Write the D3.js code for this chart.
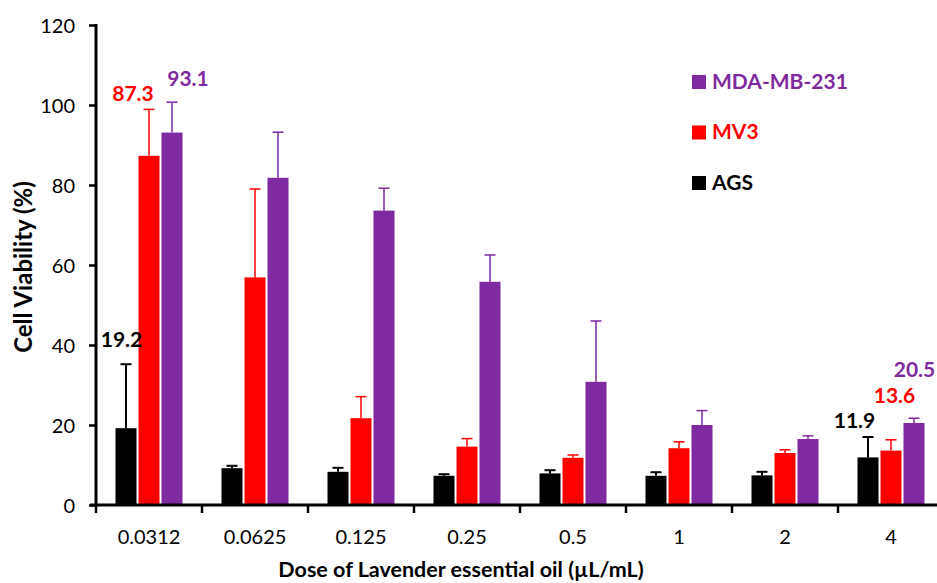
<!DOCTYPE html>
<html>
<head>
<meta charset="utf-8">
<script src="https://cdn.jsdelivr.net/npm/d3@7"></script>
<style>
  html, body { margin: 0; padding: 0; background: #fff; overflow: hidden; }
  svg { display: block; font-family: Lato, "Open Sans", sans-serif; }
</style>
</head>
<body>
<svg id="chart" width="937" height="583"></svg>
<script>
// Doses (µL/mL) on the x axis
const doses = ["0.0312", "0.0625", "0.125", "0.25", "0.5", "1", "2", "4"];

// Cell lines, drawn left to right inside each dose group
const cellLines = ["AGS", "MV3", "MDA-MB-231"];

// Mean viability (%) per cell line
const agsMean = [19.2, 9.2, 8.3, 7.3, 7.9, 7.3, 7.4, 11.9];
const mv3Mean = [87.3, 56.9, 21.7, 14.6, 11.8, 14.2, 13.0, 13.6];
const mdaMean = [93.1, 81.8, 73.6, 55.8, 30.8, 20.0, 16.5, 20.5];

// Standard deviation per cell line (upper error bar only)
const agsErr = [16.0, 0.6, 1.0, 0.4, 0.8, 0.9, 0.9, 5.1];
const mv3Err = [11.6, 22.1, 5.4, 2.0, 0.7, 1.6, 0.8, 2.7];
const mdaErr = [7.6, 11.4, 5.6, 6.7, 15.2, 3.6, 0.8, 1.2];

// Y axis ticks
const yTicks = [0, 20, 40, 60, 80, 100, 120];

// Values written above selected bars: [dose, cell line]
const annotated = [
  ["0.0312", "AGS"], ["0.0312", "MV3"], ["0.0312", "MDA-MB-231"],
  ["4", "AGS"], ["4", "MV3"], ["4", "MDA-MB-231"]
];

// ---- layout and styles ----
const colors = { "AGS": "#000000", "MV3": "#FF0000", "MDA-MB-231": "#7F2AA0" };
const means = { "AGS": agsMean, "MV3": mv3Mean, "MDA-MB-231": mdaMean };
const errs = { "AGS": agsErr, "MV3": mv3Err, "MDA-MB-231": mdaErr };
// label placement: dx from bar centre, dy (px) above the error-bar top
const labelShift = [
  [-4.5, 17], [-16, 8], [16, 16],
  [-13.5, 9], [3.5, 37], [0.5, 41]
];

const W = 937;
const svg = d3.select("#chart");
const plotLeft = 96, plotTop = 25, plotBottom = 505;
const bandW = 106;

const y = d3.scaleLinear().domain([0, 120]).range([plotBottom, plotTop]);
const x0 = d3.scaleBand().domain(doses)
  .range([plotLeft, plotLeft + bandW * doses.length]);
const groupW = 67;
const x1 = d3.scaleBand().domain(cellLines)
  .range([(x0.bandwidth() - groupW) / 2, (x0.bandwidth() + groupW) / 2])
  .paddingInner(2 / 23).paddingOuter(0);

const rows = [];
doses.forEach((d, i) => {
  cellLines.forEach(c => {
    rows.push({ dose: d, line: c, value: means[c][i], err: errs[c][i] });
  });
});
const cx = d => x0(d.dose) + x1(d.line) + x1.bandwidth() / 2;

// bars
svg.append("g").selectAll("rect").data(rows).join("rect")
  .attr("x", d => x0(d.dose) + x1(d.line))
  .attr("y", d => y(d.value))
  .attr("width", x1.bandwidth())
  .attr("height", d => y(0) - y(d.value))
  .attr("fill", d => colors[d.line]);

// error bars (upper)
const eb = svg.append("g").selectAll("g").data(rows).join("g")
  .attr("stroke", d => colors[d.line])
  .attr("stroke-width", d => d.line === "AGS" ? 2 : 1.5);
eb.append("line")
  .attr("x1", cx).attr("x2", cx)
  .attr("y1", d => y(d.value))
  .attr("y2", d => y(d.value + d.err));
eb.append("line")
  .attr("x1", d => cx(d) - 5.5)
  .attr("x2", d => cx(d) + 5.5)
  .attr("y1", d => y(d.value + d.err))
  .attr("y2", d => y(d.value + d.err));

// y axis
const yAxis = d3.axisLeft(y).tickValues(yTicks).tickSize(7).tickSizeOuter(0);
const gy = svg.append("g").attr("transform", `translate(${plotLeft},0)`).call(yAxis);
gy.select(".domain").attr("stroke", "#000").attr("stroke-width", 3)
  .attr("d", `M0,${plotTop - 1}V${plotBottom + 1}`);
gy.selectAll(".tick line").attr("stroke", "#000").attr("stroke-width", 2.5);
gy.selectAll(".tick text").attr("x", -21).attr("dy", "0.36em")
  .attr("font-size", 20).attr("fill", "#000").attr("font-family", "Lato, sans-serif");

// x axis with ticks at group boundaries
const gx = svg.append("g").attr("transform", `translate(0,${plotBottom})`);
gx.append("line").attr("x1", plotLeft - 6).attr("x2", W)
  .attr("y1", 0).attr("y2", 0).attr("stroke", "#000").attr("stroke-width", 3);
const bounds = doses.map(d => x0(d)).concat([x0.range()[1]]);
gx.selectAll("line.tk").data(bounds).join("line").attr("class", "tk")
  .attr("x1", d => d).attr("x2", d => d).attr("y1", 0).attr("y2", 8)
  .attr("stroke", "#000").attr("stroke-width", 2.5);
gx.selectAll("text").data(doses).join("text")
  .attr("x", d => x0(d) + x0.bandwidth() / 2)
  .attr("y", 39)
  .attr("text-anchor", "middle")
  .attr("font-size", 20)
  .attr("fill", "#000")
  .text(d => d);

// axis titles
svg.append("text")
  .attr("x", 461).attr("y", 577)
  .attr("text-anchor", "middle")
  .attr("font-size", 21.5).attr("font-weight", "bold")
  .text("Dose of Lavender essential oil (µL/mL)");
svg.append("text")
  .attr("transform", "translate(32,267) rotate(-90)")
  .attr("text-anchor", "middle")
  .attr("font-size", 24).attr("font-weight", "bold")
  .text("Cell Viability (%)");

// value labels
svg.append("g").selectAll("text").data(annotated).join("text")
  .attr("x", (a, i) => x0(a[0]) + x1(a[1]) + x1.bandwidth() / 2 + labelShift[i][0])
  .attr("y", (a, i) => {
    const k = doses.indexOf(a[0]);
    return y(means[a[1]][k] + errs[a[1]][k]) - labelShift[i][1];
  })
  .attr("text-anchor", "middle")
  .attr("font-size", 21).attr("font-weight", "bold")
  .attr("fill", a => colors[a[1]])
  .text(a => means[a[1]][doses.indexOf(a[0])].toFixed(1));

// legend
const legendOrder = ["MDA-MB-231", "MV3", "AGS"];
const lg = svg.append("g").selectAll("g").data(legendOrder).join("g")
  .attr("transform", (d, i) => `translate(692,${75 + i * 50.5})`);
lg.append("rect").attr("width", 14).attr("height", 14).attr("fill", d => colors[d]);
lg.append("text").attr("x", 20).attr("y", 13.5)
  .attr("font-size", 21).attr("font-weight", "bold")
  .attr("fill", d => colors[d])
  .text(d => d);
</script>
</body>
</html>
